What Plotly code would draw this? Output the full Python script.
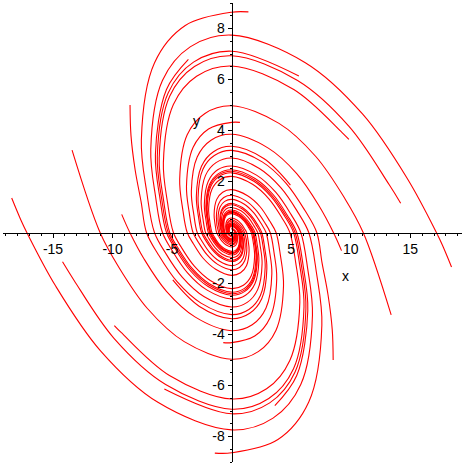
import plotly.graph_objects as go

# ---- trajectories (data units) ----
p1_x = [1.41, 0, -3.89, -6.48, -7.58, -7.12, -6.48, -5.57, -4.15, -2.33, 0, 1.31, 2.19, 2.56, 2.40, 2.19, 1.88, 1.40, 0.79, 0, -0.44, -0.74, -0.86, -0.74, -0.47, 0, 0.25, 0.29, 0.25]
p1_y = [8.65, 8.64, 8.12, 6.65, 3.63, 1.56, 0, -0.79, -1.75, -2.51, -2.92, -2.74, -2.24, -1.22, -0.52, 0, 0.26, 0.59, 0.85, 0.98, 0.93, 0.76, 0.41, 0, -0.20, -0.33, -0.26, -0.14, 0]
q1_x = [-1.41, 0, 3.89, 6.48, 7.58, 7.12, 6.48, 5.57, 4.15, 2.33, 0, -1.31, -2.19, -2.56, -2.40, -2.19, -1.88, -1.40, -0.79, 0, 0.44, 0.74, 0.86, 0.74, 0.47, 0, -0.25, -0.29, -0.25]
q1_y = [-8.65, -8.64, -8.12, -6.65, -3.63, -1.56, 0, 0.79, 1.75, 2.51, 2.92, 2.74, 2.24, 1.22, 0.52, 0, -0.26, -0.59, -0.85, -0.98, -0.93, -0.76, -0.41, 0, 0.20, 0.33, 0.26, 0.14, 0]

p2_x = [18.47, 17.7, 17.2, 14.79, 11.01, 6.19, 0, -3.48, -5.81, -6.79, -6.38, -5.81, -4.99, -3.72, -2.09, 0, 1.17, 1.96, 2.29, 2.15, 1.96, 1.69, 1.25, 0.71, 0, -0.40, -0.66, -0.77, -0.66, -0.42, 0, 0.22, 0.26, 0.22]
p2_y = [-1.35, -0.49, 0, 2.09, 4.64, 6.66, 7.74, 7.28, 5.96, 3.25, 1.39, 0, -0.71, -1.57, -2.25, -2.61, -2.46, -2.01, -1.10, -0.47, 0, 0.24, 0.53, 0.76, 0.88, 0.83, 0.68, 0.37, 0, -0.18, -0.30, -0.23, -0.13, 0]
q2_x = [-18.47, -17.7, -17.2, -14.79, -11.01, -6.19, 0, 3.48, 5.81, 6.79, 6.38, 5.81, 4.99, 3.72, 2.09, 0, -1.17, -1.96, -2.29, -2.15, -1.96, -1.69, -1.25, -0.71, 0, 0.40, 0.66, 0.77, 0.66, 0.42, 0, -0.22, -0.26, -0.22]
q2_y = [1.35, 0.49, 0, -2.09, -4.64, -6.66, -7.74, -7.28, -5.96, -3.25, -1.39, 0, 0.71, 1.57, 2.25, 2.61, 2.46, 2.01, 1.10, 0.47, 0, -0.24, -0.53, -0.76, -0.88, -0.83, -0.68, -0.37, 0, 0.18, 0.30, 0.23, 0.13, 0]

p3_x = [14.2, 13.24, 9.86, 5.54, 0, -3.12, -5.20, -6.08, -5.71, -5.20, -4.47, -3.33, -1.87, 0, 1.05, 1.75, 2.05, 1.93, 1.75, 1.51, 1.12, 0.63, 0, -0.36, -0.59, -0.69, -0.59, -0.38, 0, 0.20, 0.23, 0.20]
p3_y = [1.15, 1.87, 4.16, 5.96, 6.93, 6.51, 5.34, 2.91, 1.25, 0, -0.63, -1.40, -2.01, -2.34, -2.20, -1.80, -0.98, -0.42, 0, 0.21, 0.47, 0.68, 0.79, 0.74, 0.61, 0.33, 0, -0.16, -0.27, -0.20, -0.11, 0]
q3_x = [-14.2, -13.24, -9.86, -5.54, 0, 3.12, 5.20, 6.08, 5.71, 5.20, 4.47, 3.33, 1.87, 0, -1.05, -1.75, -2.05, -1.93, -1.75, -1.51, -1.12, -0.63, 0, 0.36, 0.59, 0.69, 0.59, 0.38, 0, -0.20, -0.23, -0.20]
q3_y = [-1.15, -1.87, -4.16, -5.96, -6.93, -6.51, -5.34, -2.91, -1.25, 0, 0.63, 1.40, 2.01, 2.34, 2.20, 1.80, 0.98, 0.42, 0, -0.21, -0.47, -0.68, -0.79, -0.74, -0.61, -0.33, 0, 0.16, 0.27, 0.20, 0.11, 0]

p4_x = [-13.4, -11.05, -9.50, -7.07, -3.98, 0, 2.24, 3.73, 4.36, 4.10, 3.73, 3.20, 2.39, 1.34, 0, -0.75, -1.26, -1.47, -1.38, -1.26, -1.08, -0.81, -0.45, 0, 0.26, 0.42, 0.50, 0.42, 0]
p4_y = [3.23, 0, -1.34, -2.98, -4.28, -4.97, -4.67, -3.83, -2.09, -0.90, 0, 0.45, 1.01, 1.44, 1.68, 1.58, 1.29, 0.70, 0.30, 0, -0.15, -0.34, -0.49, -0.57, -0.53, -0.44, -0.24, 0, 0.19]
q4_x = [13.4, 11.05, 9.50, 7.07, 3.98, 0, -2.24, -3.73, -4.36, -4.10, -3.73, -3.20, -2.39, -1.34, 0, 0.75, 1.26, 1.47, 1.38, 1.26, 1.08, 0.81, 0.45, 0, -0.26, -0.42, -0.50, -0.42, 0]
q4_y = [-3.23, 0, 1.34, 2.98, 4.28, 4.97, 4.67, 3.83, 2.09, 0.90, 0, -0.45, -1.01, -1.44, -1.68, -1.58, -1.29, -0.70, -0.30, 0, 0.15, 0.34, 0.49, 0.57, 0.53, 0.44, 0.24, 0, -0.19]

p5_x = [-9.23, -8.55, -7.35, -5.47, -3.08, 0, 1.73, 2.89, 3.38, 3.17, 2.89, 2.48, 1.85, 1.04, 0, -0.58, -0.97, -1.14, -1.07, -0.97, -0.62, 0, 0.33, 0.33, 0]
p5_y = [0.71, 0, -1.04, -2.31, -3.31, -3.85, -3.62, -2.96, -1.62, -0.69, 0, 0.35, 0.78, 1.12, 1.30, 1.22, 1.00, 0.55, 0.23, 0, -0.26, -0.44, -0.34, 0, 0.15]
q5_x = [9.23, 8.55, 7.35, 5.47, 3.08, 0, -1.73, -2.89, -3.38, -3.17, -2.89, -2.48, -1.85, -1.04, 0, 0.58, 0.97, 1.14, 1.07, 0.97, 0.62, 0, -0.33, -0.33, 0]
q5_y = [-0.71, 0, 1.04, 2.31, 3.31, 3.85, 3.62, 2.96, 1.62, 0.69, 0, -0.35, -0.78, -1.12, -1.30, -1.22, -1.00, -0.55, -0.23, 0, 0.26, 0.44, 0.34, 0, -0.15]

p6_x = [-8.53, -8.45, -8.1, -7.6, -7.15, -6.15, -4.58, -2.57, 0, 1.45, 2.41, 2.82, 2.65, 2.41, 2.07, 1.54, 0.87, 0, -0.49, -0.81, -0.95, -0.81, -0.52, 0, 0.27, 0.27]
p6_y = [5.0, 3.8, 2.45, 1.2, 0, -0.87, -1.93, -2.77, -3.22, -3.02, -2.48, -1.35, -0.58, 0, 0.29, 0.65, 0.93, 1.09, 1.02, 0.84, 0.46, 0, -0.22, -0.37, -0.28, 0]
q6_x = [8.53, 8.45, 8.1, 7.6, 7.15, 6.15, 4.58, 2.57, 0, -1.45, -2.41, -2.82, -2.65, -2.41, -2.07, -1.54, -0.87, 0, 0.49, 0.81, 0.95, 0.81, 0.52, 0, -0.27, -0.27]
q6_y = [-5.0, -3.8, -2.45, -1.2, 0, 0.87, 1.93, 2.77, 3.22, 3.02, 2.48, 1.35, 0.58, 0, -0.29, -0.65, -0.93, -1.09, -1.02, -0.84, -0.46, 0, 0.22, 0.37, 0.28, 0]

p7_x = [5.65, 0, -3.20, -5.33, -6.24, -5.86, -5.33, -4.58, -3.41, -1.92, 0, 1.08, 1.80, 2.11, 1.98, 1.80, 1.55, 1.15, 0.65, 0, -0.36, -0.61, -0.71, -0.61, -0.39, 0, 0.21, 0.21]
p7_y = [6.14, 7.11, 6.68, 5.47, 2.99, 1.28, 0, -0.65, -1.44, -2.06, -2.40, -2.26, -1.85, -1.01, -0.43, 0, 0.22, 0.49, 0.70, 0.81, 0.76, 0.62, 0.34, 0, -0.16, -0.27, -0.21, 0]
q7_x = [-5.65, 0, 3.20, 5.33, 6.24, 5.86, 5.33, 4.58, 3.41, 1.92, 0, -1.08, -1.80, -2.11, -1.98, -1.80, -1.55, -1.15, -0.65, 0, 0.36, 0.61, 0.71, 0.61, 0.39, 0, -0.21, -0.21]
q7_y = [-6.14, -7.11, -6.68, -5.47, -2.99, -1.28, 0, 0.65, 1.44, 2.06, 2.40, 2.26, 1.85, 1.01, 0.43, 0, -0.22, -0.49, -0.70, -0.81, -0.76, -0.62, -0.34, 0, 0.16, 0.27, 0.21, 0]

p8_x = [9.85, 9.28, 5.22, 0, -2.94, -4.89, -5.73, -5.38, -4.89, -4.21, -3.13, -1.76, 0, 0.99, 1.65, 1.93, 1.82, 1.65, 1.42, 1.06, 0.59, 0, -0.33, -0.56, -0.65, -0.56, -0.36, 0, 0.19, 0.19]
p8_y = [3.65, 3.92, 5.61, 6.53, 6.13, 5.02, 2.74, 1.17, 0, -0.59, -1.32, -1.89, -2.20, -2.07, -1.70, -0.93, -0.40, 0, 0.20, 0.45, 0.64, 0.74, 0.70, 0.57, 0.31, 0, -0.15, -0.25, -0.19, 0]
q8_x = [-9.85, -9.28, -5.22, 0, 2.94, 4.89, 5.73, 5.38, 4.89, 4.21, 3.13, 1.76, 0, -0.99, -1.65, -1.93, -1.82, -1.65, -1.42, -1.06, -0.59, 0, 0.33, 0.56, 0.65, 0.56, 0.36, 0, -0.19, -0.19]
q8_y = [-3.65, -3.92, -5.61, -6.53, -6.13, -5.02, -2.74, -1.17, 0, 0.59, 1.32, 1.89, 2.20, 2.07, 1.70, 0.93, 0.40, 0, -0.20, -0.45, -0.64, -0.74, -0.70, -0.57, -0.31, 0, 0.15, 0.25, 0.19, 0]

p9_x = [4.94, 2.70, 0, -1.52, -2.53, -2.96, -2.78, -2.53, -2.18, -1.62, -0.91, 0, 0.51, 0.85, 1.00, 0.85, 0.55, 0, -0.29, -0.29]
p9_y = [1.86, 2.90, 3.38, 3.17, 2.60, 1.42, 0.61, 0, -0.31, -0.68, -0.98, -1.14, -1.07, -0.88, -0.48, 0, 0.23, 0.38, 0.30, 0]
q9_x = [-4.94, -2.70, 0, 1.52, 2.53, 2.96, 2.78, 2.53, 2.18, 1.62, 0.91, 0, -0.51, -0.85, -1.00, -0.85, -0.55, 0, 0.29, 0.29]
q9_y = [-1.86, -2.90, -3.38, -3.17, -2.60, -1.42, -0.61, 0, 0.31, 0.68, 0.98, 1.14, 1.07, 0.88, 0.48, 0, -0.23, -0.38, -0.30, 0]

p10_x = [-3.63, -5.47, -6.40, -6.01, -5.47, -4.70, -3.50, -1.97, 0, 1.11, 1.85, 2.16, 2.03, 1.85, 1.59, 1.18, 0.66, 0, -0.37, -0.62, -0.73, -0.62, 0, 0.25]
p10_y = [6.79, 5.61, 3.06, 1.31, 0, -0.66, -1.48, -2.12, -2.46, -2.31, -1.89, -1.03, -0.44, 0, 0.22, 0.50, 0.71, 0.83, 0.78, 0.64, 0.35, 0, -0.28, -0.12]
q10_x = [3.63, 5.47, 6.40, 6.01, 5.47, 4.70, 3.50, 1.97, 0, -1.11, -1.85, -2.16, -2.03, -1.85, -1.59, -1.18, -0.66, 0, 0.37, 0.62, 0.73, 0.62, 0, -0.25]
q10_y = [-6.79, -5.61, -3.06, -1.31, 0, 0.66, 1.48, 2.12, 2.46, 2.31, 1.89, 1.03, 0.44, 0, -0.22, -0.50, -0.71, -0.83, -0.78, -0.64, -0.35, 0, 0.28, 0.12]

p11_x = [0.7, 0, -1.94, -3.24, -3.79, -3.56, -3.24, -2.78, -2.07, -1.17, 0, 0.66, 1.09, 1.28, 1.09, 0.70, 0, -0.37, -0.37, 0]
p11_y = [4.32, 4.32, 4.06, 3.33, 1.81, 0.78, 0, -0.39, -0.87, -1.25, -1.46, -1.37, -1.12, -0.61, 0, 0.30, 0.49, 0.38, 0, -0.17]
q11_x = [-0.7, 0, 1.94, 3.24, 3.79, 3.56, 3.24, 2.78, 2.07, 1.17, 0, -0.66, -1.09, -1.28, -1.09, -0.70, 0, 0.37, 0.37, 0]
q11_y = [-4.32, -4.32, -4.06, -3.33, -1.81, -0.78, 0, 0.39, 0.87, 1.25, 1.46, 1.37, 1.12, 0.61, 0, -0.30, -0.49, -0.38, 0, 0.17]

x_tick_vals = [-15, -10, -5, 5, 10, 15]
x_tick_text = ["-15", "-10", "-5", "5", "10", "15"]
y_tick_vals = [-8, -6, -4, -2, 2, 4, 6, 8]
y_tick_text = ["-8", "-6", "-4", "-2", "2", "4", "6", "8"]

curves = [
    (p1_x, p1_y), (q1_x, q1_y), (p2_x, p2_y), (q2_x, q2_y),
    (p3_x, p3_y), (q3_x, q3_y), (p4_x, p4_y), (q4_x, q4_y),
    (p5_x, p5_y), (q5_x, q5_y), (p6_x, p6_y), (q6_x, q6_y),
    (p7_x, p7_y), (q7_x, q7_y), (p8_x, p8_y), (q8_x, q8_y),
    (p9_x, p9_y), (q9_x, q9_y), (p10_x, p10_y), (q10_x, q10_y),
    (p11_x, p11_y), (q11_x, q11_y),
]

fig = go.Figure()
for cx, cy in curves:
    fig.add_trace(go.Scatter(x=cx, y=cy, mode="lines",
                             line=dict(color="#ff0000", width=1.1, shape="spline", smoothing=1.0),
                             hoverinfo="skip"))

X_RANGE = [-19.2, 19.35]
Y_RANGE = [-9, 9]
font = dict(family="Liberation Sans, Arial, sans-serif", size=14, color="black")

fig.update_layout(
    width=464, height=464,
    margin=dict(l=3, r=2, t=3, b=2),
    paper_bgcolor="white", plot_bgcolor="white",
    showlegend=False,
    xaxis=dict(range=X_RANGE, anchor="free", position=0.5, showline=True,
               linecolor="black", linewidth=1, showgrid=False, zeroline=False,
               tickmode="array", tickvals=x_tick_vals, ticktext=x_tick_text,
               ticks="outside", ticklen=4, tickcolor="black", tickwidth=1,
               minor=dict(ticks="outside", dtick=1, ticklen=2, tickcolor="black"),
               tickfont=font, fixedrange=True),
    yaxis=dict(range=Y_RANGE, anchor="free", position=19.2 / 38.55, showline=True,
               linecolor="black", linewidth=1, showgrid=False, zeroline=False,
               tickmode="array", tickvals=y_tick_vals, ticktext=y_tick_text,
               ticks="outside", ticklen=4, tickcolor="black", tickwidth=1,
               minor=dict(ticks="outside", dtick=0.5, ticklen=2, tickcolor="black"),
               tickfont=font, fixedrange=True),
    annotations=[
        dict(x=9.55, y=-1.69, text="x", showarrow=False, font=font),
        dict(x=-2.98, y=4.38, text="y", showarrow=False, font=font),
    ],
)

fig.write_html("out.html", config={"displayModeBar": False},
               post_script="document.body.style.margin='0';document.body.style.overflow='hidden';")
